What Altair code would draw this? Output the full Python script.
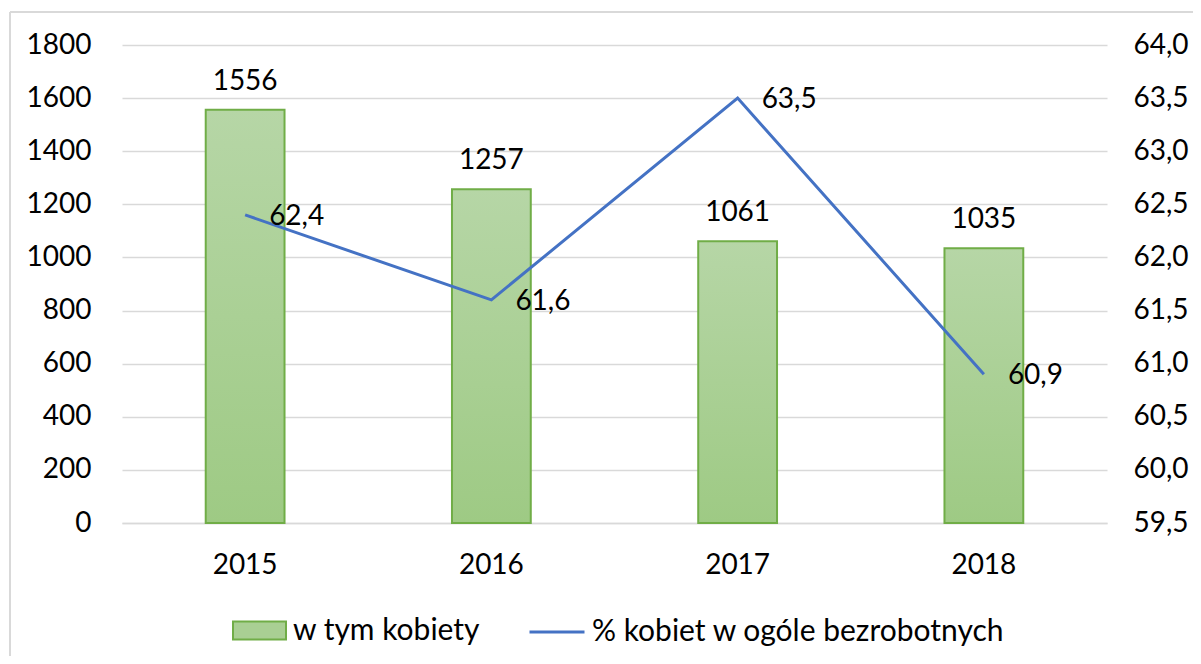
import altair as alt
import pandas as pd

years = ["2015", "2016", "2017", "2018"]
women = [1556, 1257, 1061, 1035]
pct = [62.4, 61.6, 63.5, 60.9]
bar_name = "w tym kobiety"
line_name = "% kobiet w ogóle bezrobotnych"
left_ticks = [0, 200, 400, 600, 800, 1000, 1200, 1400, 1600, 1800]
right_ticks = [59.5, 60.0, 60.5, 61.0, 61.5, 62.0, 62.5, 63.0, 63.5, 64.0]

df = pd.DataFrame({"year": years, "women": women, "pct": pct,
                   "sb": [bar_name] * 4, "sl": [line_name] * 4})

FONT = "Lato"
FS = 28
LFS = 30
W, H = 985, 478

x_enc = alt.X("year:O", title=None,
              scale=alt.Scale(paddingInner=0.68, paddingOuter=0.34),
              axis=alt.Axis(labelFontSize=FS, labelFont=FONT, labelColor="#000000",
                            labelPadding=28, ticks=False, domainColor="#D9D9D9",
                            domainWidth=1.5, labelAngle=0))

base = alt.Chart(df)

y_left = alt.Y("women:Q", title=None,
               scale=alt.Scale(domain=[0, 1800], nice=False),
               axis=alt.Axis(values=left_ticks, format="d", labelFontSize=FS, labelFont=FONT,
                             labelColor="#000000", labelPadding=31, ticks=False,
                             domain=False, grid=True, gridColor="#D9D9D9",
                             gridWidth=1.5))

bars_legend = base.mark_bar().encode(
    x=x_enc, y=y_left,
    fill=alt.Fill("sb:N", scale=alt.Scale(domain=[bar_name], range=["#A9CF93"]),
                  legend=alt.Legend(title=None, orient="none", legendX=110, legendY=558,
                                    labelFont=FONT, labelFontSize=LFS, labelColor="#000000",
                                    symbolType="M-1,-0.34H1V0.34H-1Z", symbolSize=2809,
                                    symbolStrokeColor="#70AD47", symbolStrokeWidth=2,
                                    labelOffset=6, padding=0, labelLimit=600))
)

bars = base.mark_bar(
    fill=alt.Gradient(gradient="linear", x1=0, y1=0, x2=0, y2=1,
                      stops=[alt.GradientStop(color="#B6D6A6", offset=0),
                             alt.GradientStop(color="#9ECA84", offset=1)]),
    stroke="#70AD47", strokeWidth=2
).encode(x=x_enc, y=y_left)

bar_text = base.mark_text(font=FONT, fontSize=FS, color="#000000", baseline="alphabetic",
                          dy=-20).encode(
    x=x_enc, y=y_left,
    text=alt.Text("women:Q", format="d"))

left = alt.layer(bars_legend, bars, bar_text)

y_right = alt.Y("pct:Q", title=None,
                scale=alt.Scale(domain=[59.5, 64.0], nice=False, zero=False),
                axis=alt.Axis(orient="right", values=right_ticks, labelFontSize=FS,
                              labelFont=FONT, labelColor="#000000", labelPadding=26,
                              ticks=False, domain=False, grid=False,
                              labelExpr="replace(format(datum.value, '.1f'), '.', ',')"))

line = base.mark_line(strokeWidth=3).encode(
    x=x_enc, y=y_right,
    stroke=alt.Stroke("sl:N", scale=alt.Scale(domain=[line_name], range=["#4472C4"]),
                      legend=alt.Legend(title=None, orient="none", legendX=406, legendY=558,
                                        labelFont=FONT, labelFontSize=LFS, labelColor="#000000",
                                        symbolType="stroke", symbolSize=3025,
                                        symbolStrokeWidth=3, labelOffset=6, padding=0,
                                        labelLimit=600))
)

line_text = base.mark_text(font=FONT, fontSize=FS, color="#000000", align="left",
                           baseline="middle", dx=24, dy=2).encode(
    x=x_enc, y=y_right,
    text=alt.Text("pct_label:N")
).transform_calculate(pct_label="replace(format(datum.pct, '.1f'), '.', ',')")

right = alt.layer(line, line_text)

frame = alt.Chart(pd.DataFrame({"k": [0]})).mark_rule(color="#D9D9D9", strokeWidth=2).encode(
    x=alt.value(-112), x2=alt.value(1080), y=alt.value(-33), y2=alt.value(-33))
frame2 = alt.Chart(pd.DataFrame({"k": [0]})).mark_rule(color="#D9D9D9", strokeWidth=2).encode(
    x=alt.value(-112), x2=alt.value(-112), y=alt.value(-33), y2=alt.value(620))

chart = alt.layer(left, right, frame, frame2).resolve_scale(
    y="independent", fill="independent", stroke="independent"
).properties(
    width=W, height=H,
    autosize=alt.AutoSizeParams(type="none"),
    padding={"left": 114, "top": 37, "right": 86, "bottom": 133},
    background="#FFFFFF"
).configure_view(stroke=None)

chart.save("out.html", embed_options={"renderer": "svg", "actions": False})
